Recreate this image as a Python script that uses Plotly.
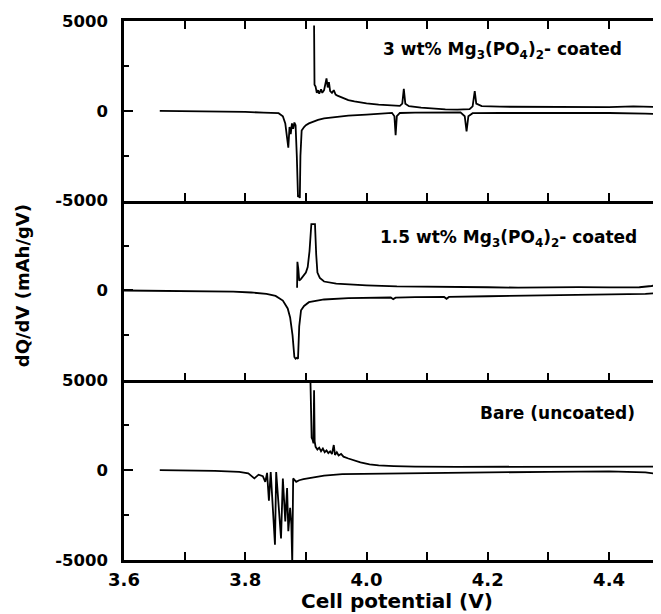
import plotly.graph_objects as go
from plotly.subplots import make_subplots

# ---------------- data ----------------
# Top panel: 3 wt% Mg3(PO4)2-coated
v_3wt_dis = [3.659, 3.70, 3.75, 3.80, 3.83, 3.855, 3.862, 3.866, 3.869, 3.871, 3.873, 3.875, 3.877,
             3.879, 3.881, 3.883, 3.885, 3.887, 3.889, 3.890, 3.891, 3.893, 3.897, 3.90, 3.905, 3.91,
             3.92, 3.93, 3.95, 3.97, 4.00, 4.03, 4.042, 4.046, 4.048, 4.050, 4.055, 4.08, 4.12, 4.155,
             4.162, 4.165, 4.168, 4.175, 4.22, 4.30, 4.40, 4.46, 4.486]
q_3wt_dis = [0, -10, -30, -60, -100, -130, -300, -700, -1500, -2050, -900, -1300, -700,
             -1000, -650, -800, -2500, -4800, -4700, -4850, -2500, -1100, -900, -800, -700, -620,
             -500, -420, -340, -270, -210, -140, -110, -300, -1350, -300, -120, -100, -90, -90,
             -300, -1150, -300, -130, -120, -110, -120, -160, -170]
v_3wt_ch = [3.9135, 3.9138, 3.9142, 3.916, 3.918, 3.920, 3.922, 3.925, 3.927, 3.930, 3.932, 3.934,
            3.936, 3.938, 3.940, 3.943, 3.946, 3.949, 3.952, 3.956, 3.96, 3.97, 3.98, 3.99, 4.00,
            4.02, 4.04, 4.055, 4.059, 4.0615, 4.064, 4.07, 4.09, 4.11, 4.13, 4.15, 4.17, 4.175,
            4.1785, 4.181, 4.19, 4.22, 4.30, 4.40, 4.44, 4.46, 4.486]
q_3wt_ch = [4750, 2500, 1450, 1350, 1000, 1150, 950, 1200, 1000, 1150, 1500, 1800,
            1300, 1600, 1100, 1000, 1150, 900, 850, 800, 720, 600, 520, 460, 410,
            350, 300, 280, 400, 1220, 400, 260, 180, 120, 80, 70, 90, 250,
            1100, 400, 260, 230, 210, 210, 250, 220, 210]

# Middle panel: 1.5 wt% Mg3(PO4)2-coated
v_15wt_dis = [3.60, 3.65, 3.70, 3.75, 3.78, 3.81, 3.835, 3.85, 3.862, 3.870, 3.874, 3.878, 3.881,
              3.883, 3.885, 3.887, 3.889, 3.892, 3.897, 3.905, 3.93, 3.97, 4.00, 4.03, 4.040,
              4.044, 4.048, 4.08, 4.12, 4.128, 4.132, 4.136, 4.20, 4.30, 4.40, 4.46, 4.475, 4.486]
q_15wt_dis = [0, -10, -20, -40, -60, -110, -190, -300, -560, -1000, -1500, -2500, -3700,
              -3800, -3750, -3800, -2000, -1100, -860, -650, -500, -420, -400, -380, -390,
              -480, -400, -370, -350, -360, -460, -360, -320, -280, -220, -190, -150, 100]
v_15wt_ch = [3.8855, 3.8858, 3.886, 3.8875, 3.889, 3.892, 3.896, 3.900, 3.903, 3.906, 3.909,
             3.915, 3.917, 3.919, 3.923, 3.93, 3.95, 3.97, 4.00, 4.05, 4.10, 4.15, 4.20, 4.25,
             4.30, 4.35, 4.40, 4.45, 4.47, 4.486]
q_15wt_ch = [150, 1000, 1600, 1200, 550, 650, 800, 1000, 1300, 2200, 3700,
             3700, 2000, 1000, 700, 500, 380, 330, 290, 230, 200, 190, 180, 160,
             180, 190, 170, 180, 250, 330]

# Bottom panel: bare (uncoated)
v_bare_dis = [3.659, 3.70, 3.75, 3.79, 3.805, 3.815, 3.822, 3.829, 3.833, 3.836, 3.839, 3.842,
              3.845, 3.849, 3.851, 3.855, 3.859, 3.862, 3.866, 3.869, 3.871, 3.874, 3.876, 3.8775,
              3.879, 3.884, 3.889, 3.896, 3.91, 3.93, 3.96, 4.00, 4.10, 4.20, 4.30, 4.40, 4.46,
              4.475, 4.486]
q_bare_dis = [0, -10, -40, -100, -180, -460, -250, -335, -650, -150, -1700, -100,
              -1900, -4150, -100, -2100, -3800, -460, -2850, -1000, -3400, -2100, -3000, -5200,
              -460, -650, -560, -500, -420, -300, -220, -200, -160, -120, -90, -70, -120,
              -185, 90]
v_bare_ch = [3.9075, 3.9085, 3.9095, 3.911, 3.9125, 3.9135, 3.9145, 3.916, 3.919, 3.922, 3.925,
             3.928, 3.931, 3.934, 3.937, 3.940, 3.943, 3.946, 3.948, 3.951, 3.954, 3.958, 3.962,
             3.97, 3.98, 3.99, 4.005, 4.02, 4.045, 4.08, 4.15, 4.25, 4.35, 4.44, 4.47, 4.486]
q_bare_ch = [4950, 3000, 1800, 1700, 1500, 4450, 1600, 1300, 1150, 1250, 1050,
             1200, 1000, 1100, 950, 1050, 900, 1400, 850, 1000, 820, 900, 750,
             650, 520, 430, 320, 270, 230, 200, 185, 180, 180, 190, 210, 200]

panel_labels = ["3 wt% Mg<sub>3</sub>(PO<sub>4</sub>)<sub>2</sub>- coated",
                "1.5 wt% Mg<sub>3</sub>(PO<sub>4</sub>)<sub>2</sub>- coated",
                "Bare (uncoated)"]
y_tickvals = [[-5000, 0, 5000], [0], [-5000, 0, 5000]]
y_ticktexts = [["-5000", "0", "5000"], ["0"], ["-5000", "0", "5000"]]
x_tickvals = [3.6, 3.8, 4.0, 4.2, 4.4]
x_ticktext = ["3.6", "3.8", "4.0", "4.2", "4.4"]

# ---------------- figure ----------------
# the page adds an 8px body margin, so the figure is sized/offset to compensate
FONT = "DejaVu Sans"
fig = make_subplots(rows=3, cols=1, shared_xaxes=True, vertical_spacing=0)

series = [
    (1, v_3wt_dis, q_3wt_dis), (1, v_3wt_ch, q_3wt_ch),
    (2, v_15wt_dis, q_15wt_dis), (2, v_15wt_ch, q_15wt_ch),
    (3, v_bare_dis, q_bare_dis), (3, v_bare_ch, q_bare_ch),
]
for row, xs, ys in series:
    fig.add_trace(go.Scatter(x=xs, y=ys, mode="lines",
                             line=dict(color="black", width=1.8),
                             showlegend=False, hoverinfo="skip"),
                  row=row, col=1)

for r in range(1, 4):
    fig.update_xaxes(row=r, col=1, range=[3.6, 4.4857],
                     showline=True, linecolor="black", linewidth=2.5,
                     mirror=("ticks" if r == 1 else False),
                     ticks="inside", ticklen=8, tickwidth=2, tickcolor="black",
                     tickvals=x_tickvals, ticktext=x_ticktext,
                     minor=dict(tickvals=[3.7, 3.9, 4.1, 4.3], ticks="inside", ticklen=8,
                                tickwidth=2, tickcolor="black"),
                     showgrid=False, zeroline=False,
                     showticklabels=(r == 3),
                     ticklabelstandoff=2,
                     tickfont=dict(family=FONT, size=18, color="black", weight="bold"))
    fig.update_yaxes(row=r, col=1, range=[-5000, 5000],
                     showline=True, linecolor="black", linewidth=2.5, mirror=False,
                     ticks="inside", ticklen=9, tickwidth=2, tickcolor="black",
                     tickvals=y_tickvals[r - 1], ticktext=y_ticktexts[r - 1],
                     minor=dict(tickvals=[-2500, 2500], ticks="inside", ticklen=5,
                                tickwidth=2, tickcolor="black"),
                     showgrid=False, zeroline=False,
                     ticklabelstandoff=10,
                     tickfont=dict(family=FONT, size=16.5, color="black", weight="bold"))

label_pos = [(0.931, 0.945), (0.959, 0.596), (0.955, 0.272)]
for txt, (ax, ay) in zip(panel_labels, label_pos):
    fig.add_annotation(text=txt, xref="paper", yref="paper", x=ax, y=ay,
                       xanchor="right", yanchor="middle", showarrow=False,
                       font=dict(family=FONT, size=17, color="black", weight="bold"))

fig.add_annotation(text="dQ/dV (mAh/gV)", xref="paper", yref="paper",
                   x=-0.189, y=0.509, textangle=-90, xanchor="center", yanchor="middle",
                   showarrow=False,
                   font=dict(family=FONT, size=18, color="black", weight="bold"))
fig.add_annotation(text="Cell potential (V)", xref="paper", yref="paper",
                   x=0.508, y=-0.076, xanchor="center", yanchor="middle",
                   showarrow=False,
                   font=dict(family=FONT, size=20, color="black", weight="bold"))

fig.update_layout(width=653, height=606,
                  margin=dict(l=116, r=0, t=12.5, b=54, autoexpand=False),
                  paper_bgcolor="white", plot_bgcolor="white")

fig.write_html("out.html")
